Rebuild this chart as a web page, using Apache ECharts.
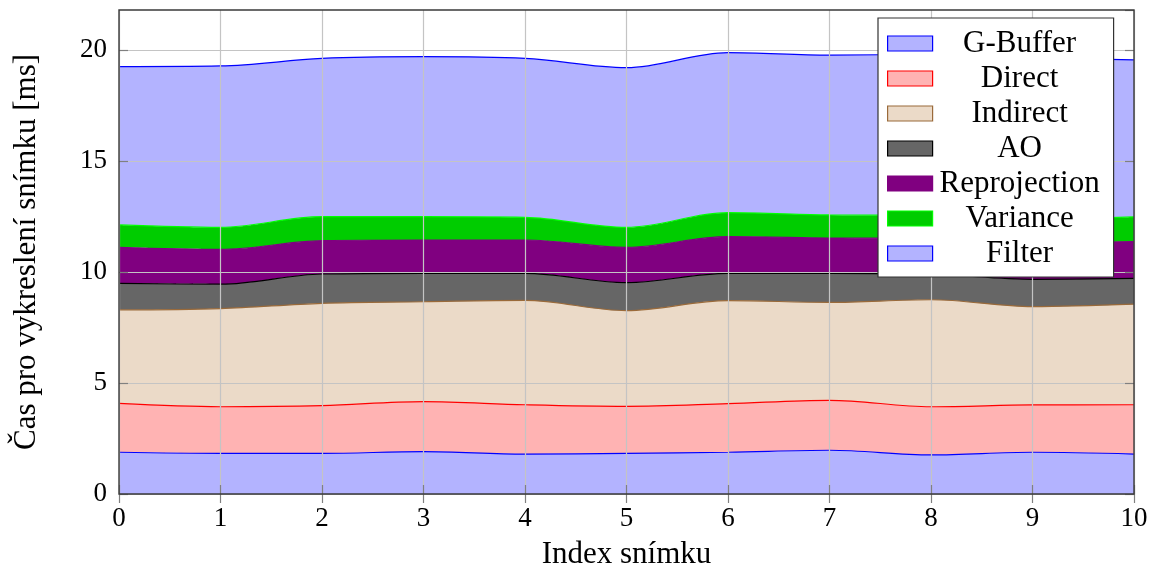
<!DOCTYPE html>
<html>
<head>
<meta charset="utf-8">
<script src="https://cdn.jsdelivr.net/npm/echarts@6/dist/echarts.min.js"></script>
<style>html,body{margin:0;padding:0;background:#fff;}#c{width:1157px;height:569px;}</style>
</head>
<body>
<div id="c"></div>
<script>
const frames = ['0','1','2','3','4','5','6','7','8','9','10'];
const gBuffer      = [1.88,1.83,1.83,1.91,1.80,1.83,1.88,1.97,1.76,1.88,1.80];
const direct       = [2.20,2.10,2.15,2.25,2.22,2.12,2.19,2.25,2.17,2.13,2.22];
const indirect     = [4.21,4.42,4.61,4.50,4.70,4.31,4.64,4.41,4.82,4.43,4.53];
const ao           = [1.20,1.10,1.32,1.28,1.22,1.26,1.23,1.31,1.15,1.23,1.16];
const reprojection = [1.62,1.57,1.50,1.50,1.50,1.59,1.65,1.59,1.60,1.63,1.66];
const variance     = [1.01,0.99,1.08,1.05,1.02,0.90,1.08,1.04,1.05,1.10,1.11];
const filter       = [7.13,7.27,7.13,7.21,7.16,7.19,7.21,7.20,7.25,7.25,7.07];
const yTicks = [0,5,10,15,20];

const FONT = '"Liberation Serif", "DejaVu Serif", serif';
const defs = [
  {name:'G-Buffer', data:gBuffer, fill:'#b3b3ff', line:'#0000ff'},
  {name:'Direct', data:direct, fill:'#ffb3b3', line:'#ff0000'},
  {name:'Indirect', data:indirect, fill:'#ebdac8', line:'#9a6a3a'},
  {name:'AO', data:ao, fill:'#666666', line:'#000000'},
  {name:'Reprojection', data:reprojection, fill:'#800080', line:'#800080'},
  {name:'Variance', data:variance, fill:'#00cc00', line:'#00ff00'},
  {name:'Filter', data:filter, fill:'#b3b3ff', line:'#0000ff'}
];

const chart = echarts.init(document.getElementById('c'), null, {renderer:'canvas'});
const tickStyle = {show:true, inside:true, length:9, lineStyle:{color:'#808080', width:1.2}};
chart.setOption({
  animation:false,
  backgroundColor:'#fff',
  textStyle:{fontFamily:FONT},
  grid:{left:119, right:23, top:10, bottom:75, containLabel:false, outerBoundsMode:'none',
        show:true, borderColor:'#3a3a3a', borderWidth:1.4, backgroundColor:'transparent', z:8},
  legend:{
    orient:'vertical', left:878, top:18, z:20,
    icon:'rect', itemWidth:45, itemHeight:15, itemGap:4, itemTextGap:5,
    backgroundColor:'#fff', borderColor:'#333', borderWidth:1.2,
    padding:[10,12,8,9],
    formatter:'{a|{name}}',
    textStyle:{fontFamily:FONT, fontSize:31, color:'#000', rich:{a:{width:164, align:'center', fontFamily:FONT, fontSize:31, lineHeight:30}}},
    data: defs.map(d => ({name:d.name, itemStyle:{color:d.fill, borderColor:d.line, borderWidth:1.2}}))
  },
  xAxis:[{
    type:'category', data:frames, boundaryGap:false, z:6,
    name:'Index snímku', nameLocation:'middle', nameGap:45,
    nameTextStyle:{fontFamily:FONT, fontSize:31, color:'#000'},
    axisLine:{show:false},
    axisTick:Object.assign({alignWithLabel:true}, tickStyle),
    axisLabel:{fontFamily:FONT, fontSize:27, color:'#000', margin:11},
    splitLine:{show:true, lineStyle:{color:'#c4c4c4', width:1.2}}
  },{
    type:'category', data:frames, boundaryGap:false, position:'top', z:6,
    axisLine:{show:false}, axisTick:tickStyle, axisLabel:{show:false}, splitLine:{show:false}
  }],
  yAxis:[{
    type:'value', min:0, max:21.8, interval:5, z:6,
    name:'Čas pro vykreslení snímku [ms]', nameLocation:'middle', nameGap:77,
    nameTextStyle:{fontFamily:FONT, fontSize:31, color:'#000'},
    axisLine:{show:false},
    axisTick:tickStyle,
    axisLabel:{fontFamily:FONT, fontSize:27, color:'#000', margin:12, showMaxLabel:false,
      formatter: v => yTicks.indexOf(v) >= 0 ? String(v) : ''},
    splitLine:{show:true, showMaxLine:false, lineStyle:{color:'#c4c4c4', width:1.2}}
  },{
    type:'value', min:0, max:21.8, interval:5, position:'right', z:6,
    axisLine:{show:false}, axisTick:tickStyle, axisLabel:{show:false}, splitLine:{show:false}
  }],
  series: defs.map(d => ({
    name:d.name, type:'line', stack:'total', data:d.data,
    smooth:0.35, symbol:'none', showSymbol:false,
    itemStyle:{color:d.fill},
    lineStyle:{color:d.line, width:1.2},
    areaStyle:{color:d.fill, opacity:1},
    emphasis:{disabled:true}
  }))
});
</script>
</body>
</html>
